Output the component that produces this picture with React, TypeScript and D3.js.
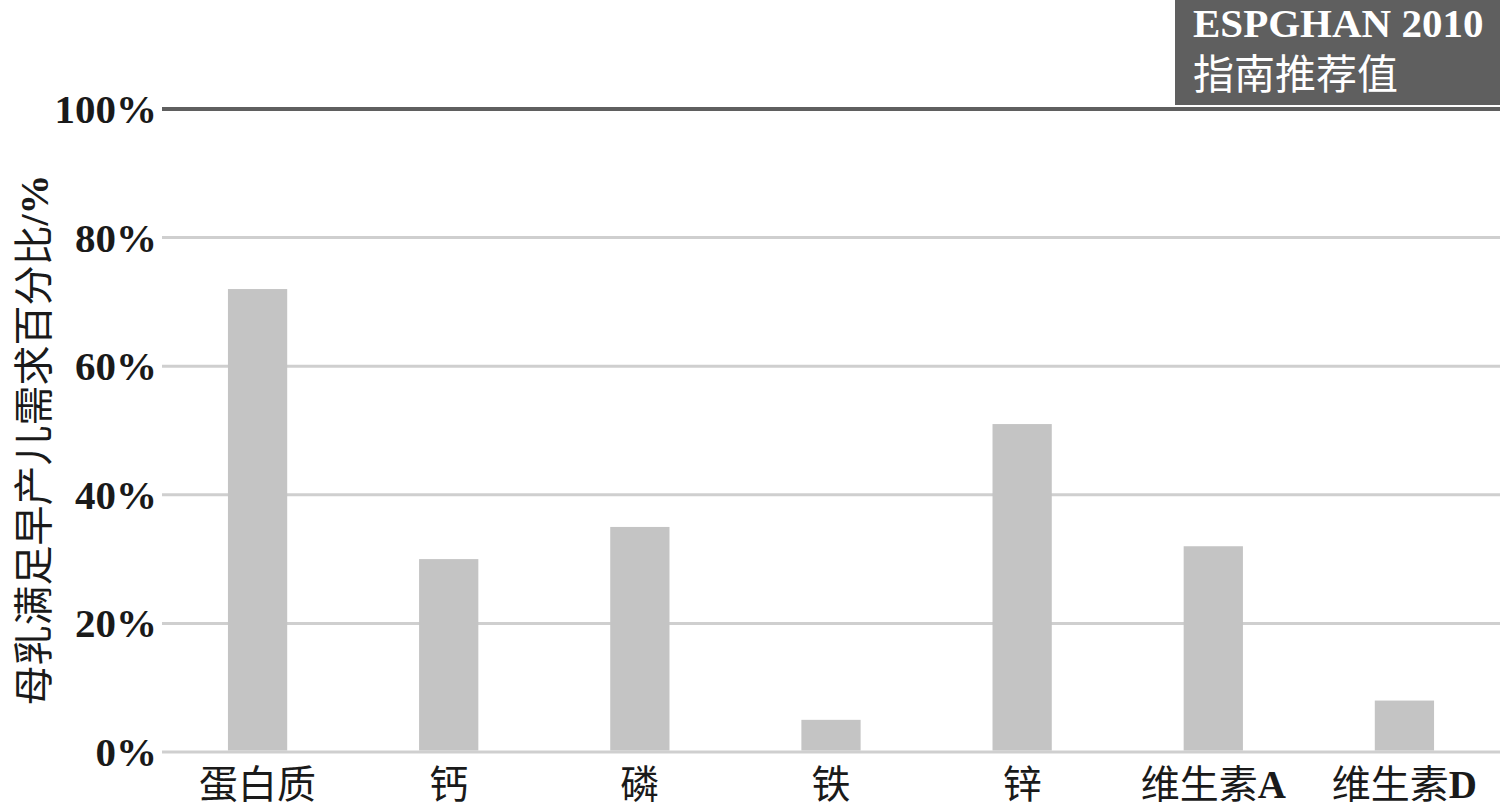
import { useMemo } from 'react'
import { scaleBand, scaleLinear } from 'd3'

const categories = ['蛋白质', '钙', '磷', '铁', '锌', '维生素A', '维生素D']
const values = [72, 30, 35, 5, 51, 32, 8]
const yTicks = [0, 20, 40, 60, 80, 100]
const legendLines = ['ESPGHAN 2010', '指南推荐值']
const yTitle = '母乳满足早产儿需求百分比'

const W = 1500
const H = 812
const SERIF = '"Liberation Serif", serif'
const CJK = '"Noto Sans CJK SC", sans-serif'

// split a label into CJK / latin runs so each gets its own font
function runs(s: string) {
  const out: { t: string; cjk: boolean }[] = []
  for (const ch of s) {
    const cjk = /[\u3000-\u9fff]/.test(ch)
    const last = out[out.length - 1]
    if (last && last.cjk === cjk) last.t += ch
    else out.push({ t: ch, cjk })
  }
  return out
}

const App = () => {
  const margin = { top: 109, right: 0, bottom: 60, left: 162 }

  const x = useMemo(
    () =>
      scaleBand<string>()
        .domain(categories)
        .range([margin.left, W - margin.right])
        .paddingInner(0.69)
        .paddingOuter(0.345),
    []
  )
  const y = useMemo(
    () => scaleLinear().domain([0, 100]).range([H - margin.bottom, margin.top]),
    []
  )

  return (
    <svg
      width={W}
      height={H}
      style={{ position: 'absolute', left: 0, top: 0, background: '#fff' }}
    >
      {/* grid lines */}
      {yTicks.map((t) => (
        <line
          key={t}
          x1={margin.left}
          x2={W - margin.right}
          y1={y(t)}
          y2={y(t)}
          stroke={t === 100 ? '#5f5f5f' : '#cfcfcf'}
          strokeWidth={t === 100 ? 4 : 3}
        />
      ))}

      {/* tick labels */}
      {yTicks.map((t) => (
        <text
          key={t}
          x={157}
          y={y(t)}
          dy="0.34em"
          textAnchor="end"
          fontFamily={SERIF}
          fontSize={41}
          fontWeight="bold"
          fill="#1a1a1a"
        >
          {t}%
        </text>
      ))}

      {/* bars */}
      {categories.map((c, i) => (
        <rect
          key={c}
          x={x(c)}
          y={y(values[i])}
          width={x.bandwidth()}
          height={y(0) - y(values[i]) - 1.5}
          fill="#c4c4c4"
        />
      ))}

      {/* category labels */}
      {categories.map((c) => (
        <text
          key={c}
          x={x(c)! + x.bandwidth() / 2}
          y={H - 14}
          textAnchor="middle"
          fontSize={39}
          fill="#1a1a1a"
        >
          {runs(c).map((r, j) => (
            <tspan
              key={j}
              fontFamily={r.cjk ? CJK : SERIF}
              fontWeight={r.cjk ? 'normal' : 'bold'}
            >
              {r.t}
            </tspan>
          ))}
        </text>
      ))}

      {/* y axis title */}
      <text
        transform={`translate(48, 440) rotate(-90)`}
        textAnchor="middle"
        fontSize={40}
        fill="#1a1a1a"
      >
        <tspan fontFamily={CJK}>{yTitle}</tspan>
        <tspan fontFamily={SERIF} fontWeight="bold">/%</tspan>
      </text>

      {/* legend box */}
      <rect x={1175} y={0} width={W - 1175} height={105} fill="#5f5f5f" />
      <text x={1193} y={37} fontFamily={SERIF} fontSize={41} fontWeight="bold" fill="#fff">
        {legendLines[0]}
      </text>
      <text x={1193} y={89} fontFamily={CJK} fontSize={41} fill="#fff">
        {legendLines[1]}
      </text>
    </svg>
  )
}

export default App
